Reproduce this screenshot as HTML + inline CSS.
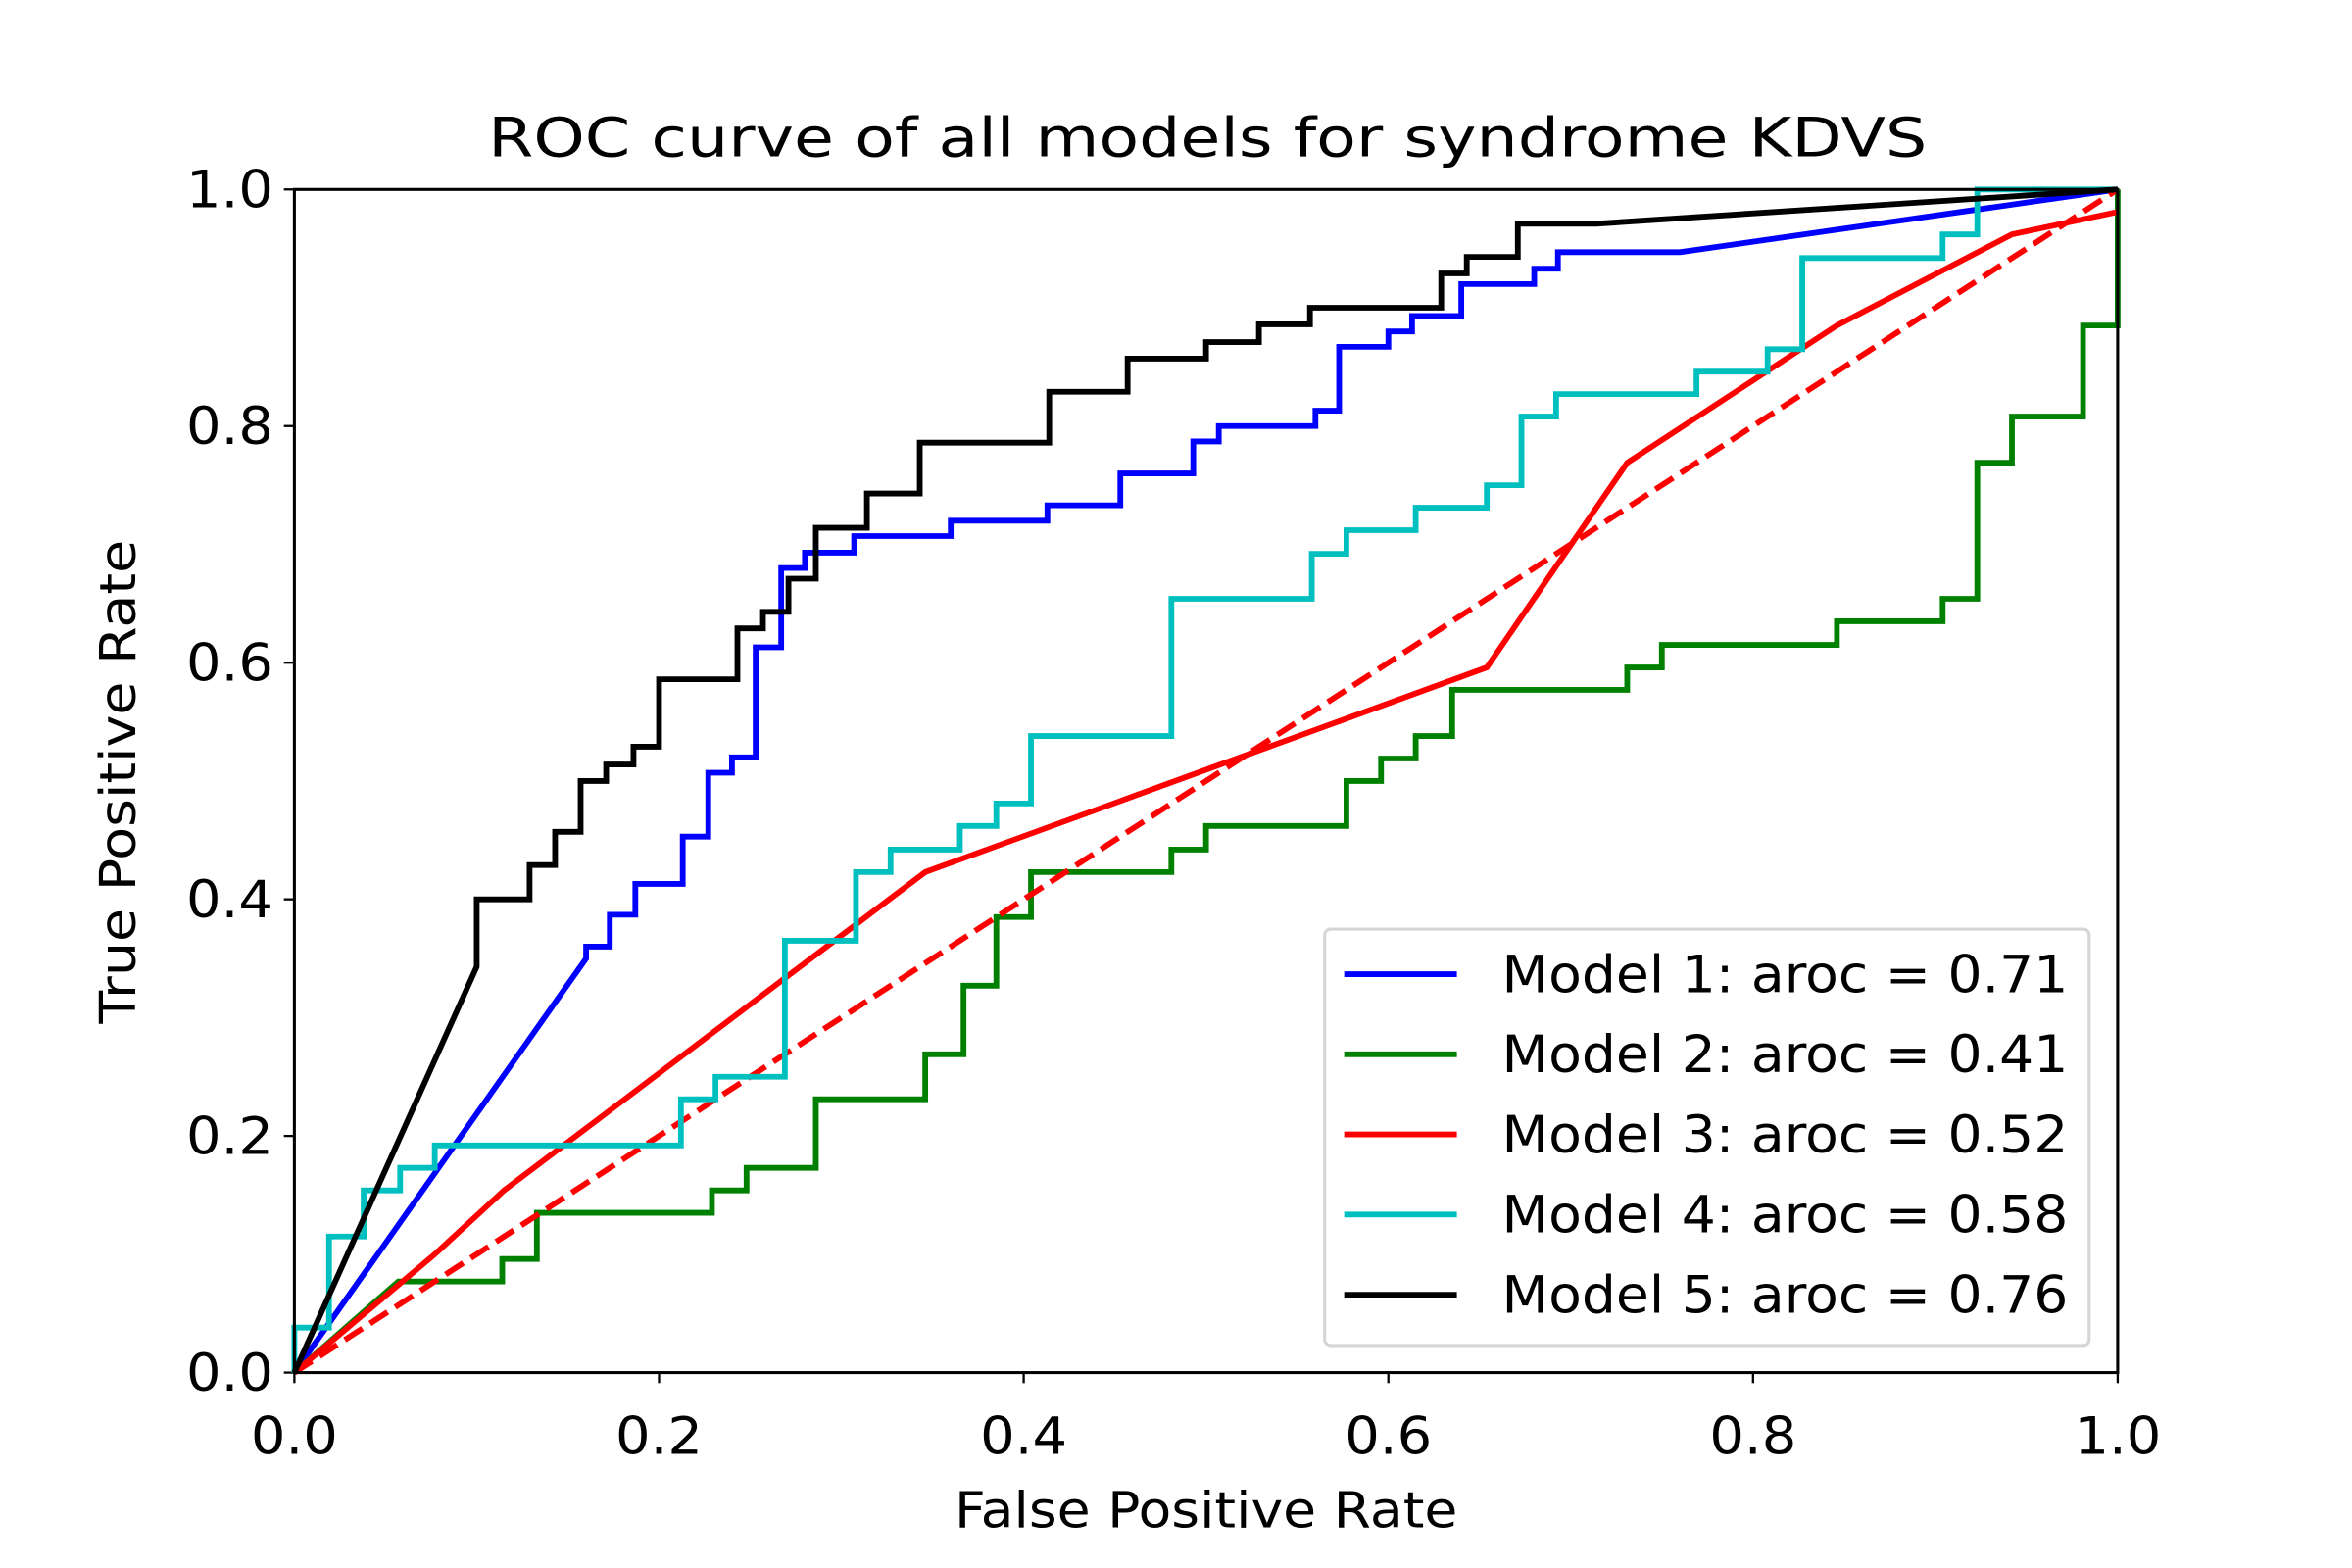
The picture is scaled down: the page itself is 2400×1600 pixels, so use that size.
<!DOCTYPE html>
<html><head><meta charset="utf-8"><style>
html,body{margin:0;padding:0;background:#fff;}
svg{display:block;font-family:"DejaVu Sans","Liberation Sans",sans-serif;}
</style></head><body>
<svg id="chart" width="2400" height="1600" viewBox="0 0 1566 1043" xmlns="http://www.w3.org/2000/svg" preserveAspectRatio="none">
<rect width="1566" height="1043" fill="#fff"/>
<text x="804" y="104" font-size="36" text-anchor="middle" textLength="958" lengthAdjust="spacingAndGlyphs">ROC curve of all models for syndrome KDVS</text>
<g id="ticks"></g>
<g id="series"></g>
<rect x="196" y="126" width="1214" height="787" fill="none" stroke="#000" stroke-width="2"/>
<text x="803" y="1016" font-size="33" text-anchor="middle" textLength="335" lengthAdjust="spacingAndGlyphs">False Positive Rate</text>
<text x="90" y="520" font-size="33" text-anchor="middle" transform="rotate(-90 90 520)" textLength="322" lengthAdjust="spacingAndGlyphs">True Positive Rate</text>
<g id="legend"></g>
</svg>
<script>
const ticks = [0, 0.2, 0.4, 0.6, 0.8, 1.0];
const tickLabels = ["0.0", "0.2", "0.4", "0.6", "0.8", "1.0"];
const modelNames = ["Model 1: aroc = 0.71", "Model 2: aroc = 0.41", "Model 3: aroc = 0.52", "Model 4: aroc = 0.58", "Model 5: aroc = 0.76"];
const fpr1 = [0,0.16,0.16,0.173,0.173,0.187,0.187,0.213,0.213,0.227,0.227,0.24,0.24,0.253,0.253,0.267,0.267,0.28,0.28,0.307,0.307,0.36,0.36,0.413,0.413,0.453,0.453,0.493,0.493,0.507,0.507,0.56,0.56,0.573,0.573,0.6,0.6,0.613,0.613,0.64,0.64,0.68,0.68,0.693,0.693,0.76,1];
const tpr1 = [0,0.35,0.36,0.36,0.387,0.387,0.413,0.413,0.453,0.453,0.507,0.507,0.52,0.52,0.613,0.613,0.68,0.68,0.693,0.693,0.707,0.707,0.72,0.72,0.733,0.733,0.76,0.76,0.787,0.787,0.8,0.8,0.813,0.813,0.867,0.867,0.88,0.88,0.893,0.893,0.92,0.92,0.933,0.933,0.947,0.947,1];
const fpr2 = [0,0.057,0.114,0.114,0.133,0.133,0.229,0.229,0.248,0.248,0.286,0.286,0.346,0.346,0.367,0.367,0.385,0.385,0.404,0.404,0.481,0.481,0.5,0.5,0.577,0.577,0.596,0.596,0.615,0.615,0.635,0.635,0.731,0.731,0.75,0.75,0.846,0.846,0.904,0.904,0.923,0.923,0.942,0.942,0.981,0.981,1,1];
const tpr2 = [0,0.077,0.077,0.096,0.096,0.135,0.135,0.154,0.154,0.173,0.173,0.231,0.231,0.269,0.269,0.327,0.327,0.385,0.385,0.423,0.423,0.442,0.442,0.462,0.462,0.5,0.5,0.519,0.519,0.538,0.538,0.577,0.577,0.596,0.596,0.615,0.615,0.635,0.635,0.654,0.654,0.769,0.769,0.808,0.808,0.885,0.885,1];
const fpr3 = [0,0.077,0.115,0.346,0.654,0.731,0.846,0.942,1];
const tpr3 = [0,0.1,0.154,0.423,0.596,0.769,0.885,0.962,0.981];
const fpr4 = [0,0,0.019,0.019,0.038,0.038,0.058,0.058,0.077,0.077,0.212,0.212,0.231,0.231,0.269,0.269,0.308,0.308,0.327,0.327,0.365,0.365,0.385,0.385,0.404,0.404,0.481,0.481,0.558,0.558,0.577,0.577,0.615,0.615,0.654,0.654,0.673,0.673,0.692,0.692,0.769,0.769,0.808,0.808,0.827,0.827,0.904,0.904,0.923,0.923,1];
const tpr4 = [0,0.038,0.038,0.115,0.115,0.154,0.154,0.173,0.173,0.192,0.192,0.231,0.231,0.25,0.25,0.365,0.365,0.423,0.423,0.442,0.442,0.462,0.462,0.481,0.481,0.538,0.538,0.654,0.654,0.692,0.692,0.712,0.712,0.731,0.731,0.75,0.75,0.808,0.808,0.827,0.827,0.846,0.846,0.865,0.865,0.942,0.942,0.962,0.962,1,1];
const fpr5 = [0,0.1,0.1,0.129,0.129,0.143,0.143,0.157,0.157,0.171,0.171,0.186,0.186,0.2,0.2,0.243,0.243,0.257,0.257,0.271,0.271,0.286,0.286,0.314,0.314,0.343,0.343,0.414,0.414,0.457,0.457,0.5,0.5,0.529,0.529,0.557,0.557,0.629,0.629,0.643,0.643,0.671,0.671,0.714,1];
const tpr5 = [0,0.343,0.4,0.4,0.429,0.429,0.457,0.457,0.5,0.5,0.514,0.514,0.529,0.529,0.586,0.586,0.629,0.629,0.643,0.643,0.671,0.671,0.714,0.714,0.743,0.743,0.786,0.786,0.829,0.829,0.857,0.857,0.871,0.871,0.886,0.886,0.9,0.9,0.929,0.929,0.943,0.943,0.971,0.971,1];
const chanceX = [0, 1];
const chanceY = [0, 1];

const NS = "http://www.w3.org/2000/svg";
const X0 = 196, X1 = 1410, Y0 = 913, Y1 = 126;
function sx(v){ return X0 + v * (X1 - X0); }
function sy(v){ return Y0 - v * (Y0 - Y1); }
function mk(tag, attrs, parent){ const e = document.createElementNS(NS, tag); for (const k in attrs) e.setAttribute(k, attrs[k]); parent.appendChild(e); return e; }

const tg = document.getElementById("ticks");
ticks.forEach((t, i) => {
  const a = mk("line", {x1: sx(t), x2: sx(t), y1: Y0, y2: Y0 + 7, stroke: "#000", "stroke-width": 1.5}, tg);
  
  
  const la = mk("text", {x: sx(t), y: Y0 + 54, "font-size": 34, "text-anchor": "middle", textLength: 58, lengthAdjust: "spacingAndGlyphs"}, tg);
  la.textContent = tickLabels[i];
  
  
  const b = mk("line", {x1: X0 - 7, x2: X0, y1: sy(t), y2: sy(t), stroke: "#000", "stroke-width": 1.5}, tg);
  
  
  const lb = mk("text", {x: X0 - 14, y: sy(t) + 12, "font-size": 34, "text-anchor": "end", textLength: 58, lengthAdjust: "spacingAndGlyphs"}, tg);
  lb.textContent = tickLabels[i];
  
  
});

const sg = document.getElementById("series");
const colors = ["#0000ff", "#008000", "#ff0000", "#00bfbf", "#000000"];
const xs = [fpr1, fpr2, fpr3, fpr4, fpr5];
const ys = [tpr1, tpr2, tpr3, tpr4, tpr5];
function pts(a, b){ return a.map((v, i) => sx(v).toFixed(2) + "," + sy(b[i]).toFixed(2)).join(" "); }
[0, 1, 2, 3, 4].forEach(i => {
  const p = mk("polyline", {points: pts(xs[i], ys[i]), fill: "none", stroke: colors[i], "stroke-width": 3.8, "stroke-linejoin": "miter"}, sg);
  
  
  if (i === 2) {
    const d = mk("polyline", {points: pts(chanceX, chanceY), fill: "none", stroke: "#ff0000", "stroke-width": 3.8, "stroke-dasharray": "14,6"}, sg);
    
    
  }
});

const lg = document.getElementById("legend");
const box = mk("rect", {x: 882, y: 618, width: 509, height: 277, rx: 4, fill: "#fff", "fill-opacity": 0.8, stroke: "#d5d5d5", "stroke-width": 2}, lg);


modelNames.forEach((n, i) => {
  const y = 648 + i * 53.3;
  const l = mk("line", {x1: 895, x2: 970, y1: y, y2: y, stroke: colors[i], "stroke-width": 3.8}, lg);
  
  
  const t = mk("text", {x: 1000, y: y + 12, "font-size": 34, textLength: 377, lengthAdjust: "spacingAndGlyphs"}, lg);
  t.textContent = n;
  
  
});
</script>
</body></html>
